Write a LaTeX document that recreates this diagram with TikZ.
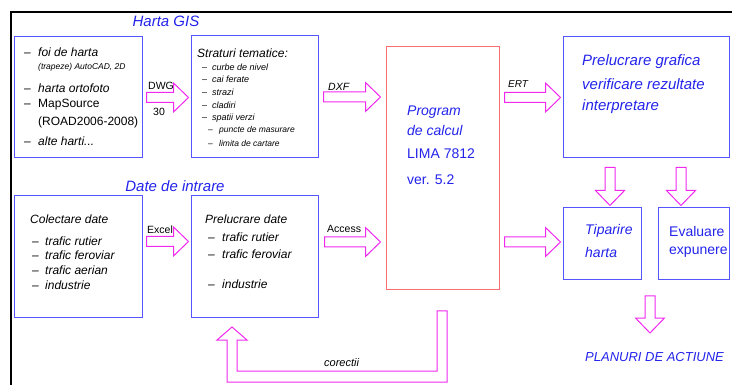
\documentclass[tikz,border=0pt]{standalone}
\usepackage{fontspec}
\setmainfont{Liberation Sans}
\usetikzlibrary{positioning, calc}

\definecolor{boxblue}{RGB}{85,85,255}
\definecolor{boxred}{RGB}{255,110,110}
\definecolor{txtblue}{RGB}{35,35,235}
\definecolor{arrpink}{RGB}{240,40,240}

\newcommand{\itm}[2][14pt]{\makebox[#1][l]{--}#2}
\newcommand{\fsz}[1]{\fontsize{#1}{#1}\selectfont}

\tikzset{
  bluebox/.style={draw=boxblue, line width=1pt, inner sep=0pt},
  redbox/.style={draw=boxred, line width=1pt, inner sep=0pt},
  txt/.style={anchor=west, inner sep=0pt, font=\fsz{12}\itshape},
  small/.style={txt, font=\fsz{9}\itshape},
  tiny/.style={txt, font=\fsz{8.5}\itshape},
  bluetxt/.style={txt, text=txtblue, font=\fsz{14}\itshape},
  ttl/.style={inner sep=0pt, text=txtblue, font=\fsz{15}\itshape},
  lbl/.style={anchor=west, inner sep=0pt, font=\fsz{10.5}},
  arrline/.style={draw=arrpink, line width=1pt, line join=miter},
  pics/fatarrow/.style={code={
    \draw[arrline] (0,-5) -- (#1-15,-5) -- (#1-15,-14.5) -- (#1,0)
      -- (#1-15,14.5) -- (#1-15,5) -- (0,5) -- cycle;
  }}
}

\begin{document}
\begin{tikzpicture}[x=1pt, y=-1pt]
\useasboundingbox (0,0) rectangle (732,385);

% frame
\draw[line width=2pt] (11,386) -- (11,12) -- (733,12);

% boxes
\node[bluebox, minimum width=128pt, minimum height=121pt] (gis) at (78,97.5) {};
\node[bluebox, minimum width=127pt, minimum height=122pt] (layers) at (254.5,97) {};
\node[redbox, minimum width=113pt, minimum height=243pt] (prog) at (442.5,168.5) {};
\node[bluebox, minimum width=166pt, minimum height=121pt] (graf) at (646,97.5) {};
\node[bluebox, minimum width=128pt, minimum height=121pt] (collect) at (78,256.5) {};
\node[bluebox, minimum width=127pt, minimum height=121pt] (procdata) at (254.5,256.5) {};
\node[bluebox, minimum width=78pt, minimum height=72pt] (print) at (602,244) {};
\node[bluebox, minimum width=71pt, minimum height=72pt] (eval) at (693.5,244) {};

% titles
\node[ttl] (gistitle) at (166,21) {Harta GIS};
\node[ttl] (intitle) at (175,186) {Date de intrare};

% harta GIS
\node[txt] (g1) at (24,52) {\itm{foi de harta}};
\node[tiny] (g1b) at (38,67) {(trapeze) AutoCAD, 2D};
\node[txt] (g2) at (24,88) {\itm{harta ortofoto}};
\node[txt, font=\fsz{12}] (g3) at (24,105) {\itm{MapSource}};
\node[txt, font=\fsz{12}] (g3b) at (38,122) {(ROAD2006-2008)};
\node[txt] (g4) at (24,141) {\itm{alte harti...}};

% straturi
\node[txt] (s0) at (197,53) {Straturi tematice:};
\node[small] (s1) at (202,67) {\itm[10pt]{curbe de nivel}};
\node[small] (s2) at (202,79) {\itm[10pt]{cai ferate}};
\node[small] (s3) at (202,92) {\itm[10pt]{strazi}};
\node[small] (s4) at (202,105) {\itm[10pt]{cladiri}};
\node[small] (s5) at (202,118) {\itm[10pt]{spatii verzi}};
\node[tiny] (s6) at (208,130) {\itm[11pt]{puncte de masurare}};
\node[tiny] (s7) at (208,143) {\itm[11pt]{limita de cartare}};

% program
\node[bluetxt] (p1) at (407,112) {Program};
\node[bluetxt] (p2) at (407,131) {de calcul};
\node[bluetxt, font=\fsz{14}] (p3) at (407,154) {LIMA 7812};
\node[bluetxt, font=\fsz{14}] (p4) at (407,180) {ver. 5.2};

% prelucrare grafica
\node[bluetxt, font=\fsz{15}\itshape] (r1) at (582,62) {Prelucrare grafica};
\node[bluetxt, font=\fsz{15}\itshape] (r2) at (582,84) {verificare rezultate};
\node[bluetxt, font=\fsz{15}\itshape] (r3) at (582,107) {interpretare};

% colectare
\node[txt] (c0) at (30,219) {Colectare date};
\node[txt] (c1) at (32,241) {\itm[13pt]{trafic rutier}};
\node[txt] (c2) at (32,255) {\itm[13pt]{trafic feroviar}};
\node[txt] (c3) at (32,270) {\itm[13pt]{trafic aerian}};
\node[txt] (c4) at (32,285) {\itm[13pt]{industrie}};

% prelucrare date
\node[txt] (d0) at (205,219) {Prelucrare date};
\node[txt] (d1) at (208,237) {\itm{trafic rutier}};
\node[txt] (d2) at (208,254) {\itm{trafic feroviar}};
\node[txt] (d3) at (208,284) {\itm{industrie}};

% tiparire / evaluare
\node[bluetxt] (t1) at (585,231) {Tiparire};
\node[bluetxt] (t2) at (585,252) {harta};
\node[bluetxt, font=\fsz{14}] (e1) at (669,231) {Evaluare};
\node[bluetxt, font=\fsz{14}] (e2) at (669,252) {expunere};

\node[bluetxt, font=\fsz{13}\itshape] (plans) at (585,357) {PLANURI DE ACTIUNE};

% block arrows
\pic at ([xshift=4pt]gis.east) {fatarrow=42};
\pic at ([xshift=5pt]layers.east) {fatarrow=57};
\pic at ([xshift=5pt]prog.east |- graf.west) {fatarrow=56};
\pic at ([xshift=4pt, yshift=15pt]collect.east) {fatarrow=42};
\pic at ([xshift=6pt, yshift=14.5pt]procdata.east) {fatarrow=56};
\pic at ([xshift=5pt, yshift=2pt]prog.east |- print.west) {fatarrow=56};
\pic[rotate=-90] at ([xshift=-36pt, yshift=-9pt]graf.south) {fatarrow=38};
\pic[rotate=-90] at ([xshift=35pt, yshift=-9pt]graf.south) {fatarrow=38};
\pic[rotate=-90] at (650,296) {fatarrow=37};

% corectii loop
\draw[arrline] (437,311) -- (447,311) -- (447,382) -- (227,382) -- (227,340)
  -- (217,340) -- (232,327) -- (247,340) -- (237,340) -- (237,371)
  -- (437,371) -- cycle;

% labels
\node[lbl] (dwg) at (148,86) {DWG};
\node[lbl] (td) at (153,112) {30};
\node[lbl, font=\fsz{10.5}\itshape] (dxf) at (328,87) {DXF};
\node[lbl, font=\fsz{10}\itshape] (ert) at (508,84) {ERT};
\node[lbl] (excel) at (147,230) {Excel};
\node[lbl] (access) at (327,229) {Access};
\node[lbl, font=\fsz{11}\itshape] (corr) at (324,363) {corectii};
\end{tikzpicture}
\end{document}
